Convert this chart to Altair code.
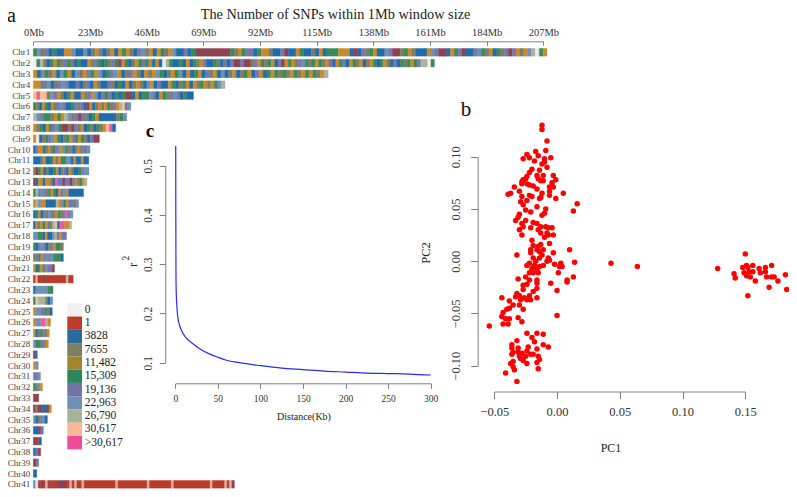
import altair as alt
import pandas as pd

SERIF = "Liberation Serif"
TOP_PAD = 6
W, H = 781, 475

# ---------- panel a: SNP density per chromosome ----------
chrom_len = [208.5, 162.8, 119.7, 77.8, 65, 39.6, 37.9, 33.4, 26.8, 23, 22.5, 22.6, 21.8, 20.4, 18.4, 16.1,
             15.6, 13.5, 12.2, 12.2, 8.6, 16.2, 8, 7.9, 7.7, 7, 6.5, 6.1, 1.6, 2, 2.9, 3.7, 2.2, 7.3, 5.7,
             4.1, 3.3, 3, 2.2, 1.4, 81.6]
chrom_bins = [
    "GSTVBGBBOOSBBSBTOVBTOBOGOTBVSTOBOGTOSBBVBGDDDDDDDDD"
    "GTOGVVBGOOTBBVDBBOGBBTBOBGGGOOOBDBVTGOBBSVDDTGOTBBBOSVDDBOGVDBBVSGTOBGTVDVOTOSAKGO",
    "KGATBGOGTVGTBGBBOTVGBGTVGDOGBTOGVGOBOBKAGBBGBOBGTOVBBGTBVBVDDVDDTVOGTGOBVDOGOTVSGTGOGTOVBOGVBOGTOBTOGBGOTBVBGTGOGVAAKG",
    "OBSGTOBSGOBSTOVGOSBGVSOBTVOTBOTOSGBTOGSBOBGOBVTOBSBTOBTGOBVOBGOGTGTOGTOGOGTOA",
    "OOTVSBTVSVBBVBTVBOTBBVTBGBOBTOTBSOBVBBOGBTGOBOTGOTOGSA",
    "PMPPTSVOTBGOBBOTVOSBVGVBGBGDDBOBGGSVBOGTVSVBGBB",
    "GTBOGBOTVSVBBGVTVBDOBTOTOGTVOAPVS",
    "ASVGGTOGOASTVDVTBGOBBBBBTGS",
    "OTGBOGVSGDDTDVTOBGTBGTOPMB",
    "OKBTGVSOGBTGOVGOGTBVDD",
    "BVOOBTOTGVSOSGTVBTOTVVS",
    "BBBTOBBGOTOGGSSBOBBOBB",
    "TDGOBTBBGOBTVBOTBBGVSS",
    "DBOOBOOTBMVVDVVDVOTGOA",
    "GAVSVTGOGBOVSOBBBBBB",
    "OASOOBBBBAOSGOVVTS",
    "BGOBVTSVTOGTVMVS",
    "BOTOGOVTAPBMMOOA",
    "SSGGBOBBSAVOVV",
    "GBVSVBTVOGGT",
    "TVGOVSVSGGGB",
    "OBGOTSVVD",
    "RERRDRRRRRRRRRERR",
    "BSSSSSGG",
    "GPAAATBS",
    "OSSVVGTB",
    "OSSMMAO",
    "OBTGVTO",
    "SGGVTO",
    "DB",
    "OS",
    "VVS",
    "GTSO",
    "DD",
    "DTDDBBDO",
    "SBTVSB",
    "BBDV",
    "DRB",
    "BVD",
    "DV",
    "B",
    "SKRDRERDRRDDDDRERERRERRRRRRRRRRRRRERRRRRRRRRRRRERRRRRRRRRERRRRRRRRRRRRRRRERRRRRERED",
]
bin_colours = {"K": "#efeaea", "E": "#e0a89c", "R": "#b93c2a", "B": "#1f6cab", "T": "#7d7d66", "O": "#c98a2e",
               "G": "#3a8a58", "V": "#7478ae", "S": "#6f90b5", "A": "#a9b59b", "P": "#f8bd96", "M": "#ee5a9e",
               "D": "#8c4252"}
top_ticks = [0, 23, 46, 69, 92, 115, 138, 161, 184, 207]

legend_labels = ["0", "1", "3828", "7655", "11,482", "15,309", "19,136", "22,963", "26,790", "30,617", ">30,617"]
legend_colours = ["#f0f0f0", "#bd3b27", "#2b6a9e", "#7d7d64", "#a0842f", "#2d865a",
                  "#7274a8", "#7090b0", "#a8b49a", "#f8b896", "#f04c9c"]

# ---------- panel b: PCA ----------
pc1 = [-.012, -.012, -.008, -.009, -.017, -.015, -.024, -.027, -.022, -.018, -.005, -.010, -.010, -.012, -.008,
       -.020, -.022, -.014, -.016, -.024, -.027, -.028, -.025, -.003, -.011, -.001, -.015, -.013, -.024, -.028,
       -.022, -.016, -.019, -.004, -.006, -.003, -.011, -.034, -.037, -.039, -.030, -.006, -.006, -.001, .005,
       .016, .013, -.012, -.013, -.014, -.020, -.022, -.028, -.029, -.024, -.027, -.025, -.021, -.016, -.009,
       -.010, -.012, -.030, -.031, -.033, -.025, -.028, -.027, -.030, -.028, -.021, -.019, -.016, -.013, -.009,
       -.004, -.007, -.015, -.013, -.008, -.003, -.010, -.007, -.020, -.006, -.019, -.015, -.013, -.021, -.021,
       -.016, -.014, -.011, -.032, .010, -.003, -.007, .014, .003, .004, .002, .001, .013, .008, .008, -.005,
       -.000, -.016, -.015, -.019, -.018, -.017, -.014, -.012, -.024, -.022, -.020, -.022, -.025, -.014, -.011,
       -.008, -.006, -.002, -.016, -.019, -.031, -.027, -.024, -.022, -.016, -.016, -.019, -.016, -.022, -.027,
       -.021, -.026, -.024, -.030, -.032, -.033, -.029, -.038, -.044, -.035, -.030, -.027, -.038, -.040, -.043,
       -.044, -.041, -.038, -.043, -.039, -.031, -.028, -.000, -.054, -.024, -.016, -.011, -.020, -.018, -.032,
       -.036, -.036, -.011, -.007, -.016, -.023, -.031, -.035, -.028, -.024, -.021, -.025, -.030, -.027, -.029,
       -.036, -.015, -.014, -.016, -.024, -.035, -.037, -.035, -.034, -.015, -.041, -.032, -.019, -.031,
       .043, .064, .128, .141, .142, .150, .148, .151, .156, .152, .161, .166, .171, .149, .151, .153, .156, .154,
       .158, .162, .166, .167, .171, .173, .176, .182, .183, .169, .152]
pc2 = [.130, .126, .115, .106, .105, .101, .102, .098, .099, .096, .099, .098, .095, .093, .090,
       .088, .085, .087, .082, .081, .078, .076, .079, .082, .082, .078, .079, .077, .074, .074,
       .073, .069, .072, .075, .071, .071, .077, .071, .065, .064, .067, .067, .063, .060, .065,
       .055, .048, .065, .061, .060, .062, .063, .062, .057, .058, .054, .049, .047, .052, .050,
       .046, .044, .045, .042, .039, .039, .036, .033, .030, .025, .032, .037, .036, .033, .033,
       .032, .032, .030, .027, .027, .025, .023, .025, .020, .017, .015, .014, .016, .011, .008,
       .011, .009, .011, .006, .011, .008, .003, -.001, -.002, -.005, -.005, -.011, -.015, -.018, -.020, -.021,
       -.028, -.018, -.011, .003, -.004, -.000, .003, .006, -.004, -.002, -.007, -.011, -.015, -.005, -.004,
       -.000, .001, -.003, -.008, -.011, -.017, -.023, -.022, -.018, -.021, -.026, -.029, -.035, -.033, -.027,
       -.037, -.035, -.037, -.033, -.031, -.034, -.037, -.038, -.035, -.042, -.042, -.046, -.045, -.046, -.049,
       -.053, -.055, -.055, -.060, -.060, -.054, -.058, -.052, -.062, -.069, -.069, -.070, -.073, -.077, -.076,
       -.080, -.083, -.080, -.082, -.084, -.082, -.083, -.087, -.088, -.086, -.089, -.091, -.091, -.095, -.093,
       -.089, -.091, -.094, -.097, -.098, -.096, -.098, -.101, -.104, -.103, -.107, -.115, -.089, -.087,
       -.002, -.005, -.007, -.012, -.016, .007, -.006, -.004, -.004, -.006, -.007, -.006, -.004, -.011, -.014,
       -.010, -.010, -.015, -.019, -.011, -.010, -.015, -.015, -.015, -.019, -.013, -.027, -.025, -.033]
pc_x_ticks = [-0.05, 0.0, 0.05, 0.10, 0.15]
pc_y_ticks = [-0.10, -0.05, 0.0, 0.05, 0.10]

# ---------- panel c: LD decay ----------
dist_kb = [0.5, 0.6, 0.8, 1, 1.5, 2, 3, 5, 7.4, 12, 21, 30, 40, 50, 60, 75, 100, 125, 150, 175, 200, 225, 250, 275, 300]
r_sq = [.54, .40, .28, .25, .225, .21, .192, .176, .165, .152, .138, .127, .118, .111, .105, .10, .094, .089, .086,
        .083, .081, .079, .078, .077, .075]
ld_x_ticks = [0, 50, 100, 150, 200, 250, 300]
ld_y_ticks = [0.1, 0.2, 0.3, 0.4, 0.5]

chrom_names = [f"Chr{i + 1}" for i in range(41)]


def pxx(v):
    return v - 8


def pxy(v):
    return v - 8 - TOP_PAD


# ---------- build tables (adjacent bins of one colour become one rectangle) ----------
rows = []
for name, length, bins in zip(chrom_names, chrom_len, chrom_bins):
    step = length / len(bins)
    i = 0
    while i < len(bins):
        j = i
        while j + 1 < len(bins) and bins[j + 1] == bins[i]:
            j += 1
        rows.append({"chrom": name, "start": i * step, "end": (j + 1) * step, "hex": bin_colours[bins[i]]})
        i = j + 1
seg_df = pd.DataFrame(rows)

AX = dict(domainColor="#808080", tickColor="#808080", domainWidth=1, tickWidth=1, grid=False, title=None,
          labelFont=SERIF, labelColor="#333333", labelOverlap=False, labelFlush=False)

x_a = alt.X("start:Q",
            scale=alt.Scale(domain=[0, 207], range=[pxx(33.3), pxx(543.3)], nice=False, zero=False),
            axis=alt.Axis(orient="bottom", offset=pxy(41.3) - H, values=top_ticks, labelExpr="datum.value + 'Mb'",
                          tickSize=4, labelFontSize=10.5, labelBaseline="bottom", labelPadding=-8, **AX))
y_a = alt.Y("chrom:N", sort=chrom_names,
            scale=alt.Scale(domain=chrom_names, range=[pxy(46.9), pxy(489.7)], paddingInner=0.29, paddingOuter=0.145),
            axis=alt.Axis(orient="left", offset=-pxx(33.3), domain=False, ticks=False, labelPadding=3.5,
                          labelFontSize=9, grid=False, title=None, labelFont=SERIF, labelColor="#444444",
                          labelOverlap=False))
bars = alt.Chart(seg_df).mark_rect(strokeWidth=0.4).encode(
    x=x_a, x2="end:Q", y=y_a,
    color=alt.Color("hex:N", scale=None, legend=None),
    stroke=alt.Stroke("hex:N", scale=None, legend=None))

leg_df = pd.DataFrame({"label": legend_labels, "hex": legend_colours, "a": [0] * 11, "b": [1] * 11})
leg_y = alt.Y("label:N", sort=legend_labels, axis=None,
              scale=alt.Scale(domain=legend_labels, range=[pxy(303.3), pxy(449.3)], paddingInner=0, paddingOuter=0))
leg_blocks = alt.Chart(leg_df).mark_rect().encode(
    x=alt.X("a:Q", axis=None, scale=alt.Scale(domain=[0, 1], range=[pxx(67.3), pxx(82)], nice=False, zero=False)),
    x2="b:Q", y=leg_y, color=alt.Color("hex:N", scale=None, legend=None))
leg_text = alt.Chart(leg_df).mark_text(font=SERIF, fontSize=11.5, align="left", color="#222222").encode(
    x=alt.value(pxx(84.7)), y=leg_y, text="label:N")

# panel b
pca_df = pd.DataFrame({"pc1": pc1, "pc2": pc2})
pca = alt.Chart(pca_df).mark_circle(color="#ff0000", opacity=1, size=30).encode(
    x=alt.X("pc1:Q",
            scale=alt.Scale(domain=[-0.05, 0.15], range=[pxx(494.3), pxx(745.3)], nice=False, zero=False),
            axis=alt.Axis(orient="bottom", offset=pxy(391.5) - H, values=pc_x_ticks, format=".2f",
                          tickSize=7, labelFontSize=12.5, labelPadding=7, **AX)),
    y=alt.Y("pc2:Q",
            scale=alt.Scale(domain=[-0.10, 0.10], range=[pxy(365.7), pxy(156.7)], nice=False, zero=False),
            axis=alt.Axis(orient="left", offset=-pxx(477.7), values=pc_y_ticks, format=".2f", tickSize=7,
                          labelFontSize=12.5, labelAngle=270, labelAlign="center", labelBaseline="bottom",
                          labelPadding=8, **AX)))

# panel c
ld_df = pd.DataFrame({"d": dist_kb, "r": r_sq})
ld = alt.Chart(ld_df).mark_line(color="#2a2aff", strokeWidth=1.2, interpolate="monotone").encode(
    x=alt.X("d:Q",
            scale=alt.Scale(domain=[0, 300], range=[pxx(175.3), pxx(430.7)], nice=False, zero=False),
            axis=alt.Axis(orient="bottom", offset=pxy(383.3) - H, values=ld_x_ticks, tickSize=5,
                          labelFontSize=9.5, labelPadding=5, **AX)),
    y=alt.Y("r:Q",
            scale=alt.Scale(domain=[0.1, 0.5], range=[pxy(362.7), pxy(165.7)], nice=False, zero=False),
            axis=alt.Axis(orient="left", offset=-pxx(165.3), values=ld_y_ticks, format=".1f", tickSize=6,
                          labelFontSize=11.5, labelAngle=270, labelAlign="center", labelBaseline="bottom",
                          labelPadding=6, **AX)))


def label(text, x, y, size, angle=0, weight="normal", color="#222222"):
    return alt.Chart(pd.DataFrame({"t": [text]})).mark_text(
        font=SERIF, fontSize=size, angle=angle, fontWeight=weight, color=color, align="center", baseline="middle"
    ).encode(x=alt.value(pxx(x)), y=alt.value(pxy(y)), text="t:N")


texts = [
    label("The Number of SNPs within 1Mb window size", 335.5, 15, 14.3),
    label("a", 11.5, 16, 20, color="#111111"),
    label("b", 466, 110, 21, color="#111111"),
    label("c", 150, 131, 19, weight="bold", color="#111111"),
    label("PC1", 611, 448, 12),
    label("PC2", 426, 253, 12.5, angle=270),
    label("Distance(Kb)", 304, 417, 10),
    label("r", 133, 265, 12, angle=270),
    label("2", 126, 258, 9.5, angle=270),
]

chart = alt.layer(bars, leg_blocks, leg_text, ld, pca, *texts).resolve_scale(
    x="independent", y="independent"
).properties(width=W, height=H, autosize=alt.AutoSizeParams(type="none"), background="white",
             padding={"left": 0, "top": TOP_PAD, "right": 0, "bottom": 0}
).configure_view(stroke=None)

chart.save("out.html", embed_options={"renderer": "svg", "actions": False})
